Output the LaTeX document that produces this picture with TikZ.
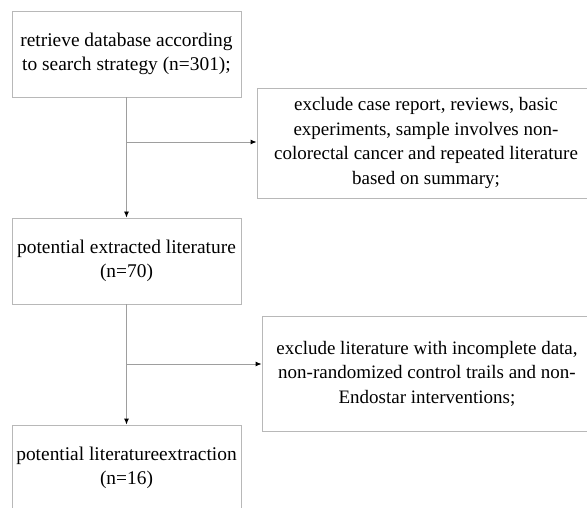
\documentclass[tikz,border=0pt]{standalone}
\usepackage{fontspec}
\setmainfont{Liberation Serif}
\usetikzlibrary{arrows.meta}
\begin{document}
\begin{tikzpicture}[x=1pt,y=-1pt,
  box/.style={draw=black!28, line width=0.9pt, inner sep=0pt, align=center,
    font=\fontsize{19.4}{24.5}\selectfont},
  rbox/.style={box, font=\fontsize{19}{24.5}\selectfont},
  arr/.style={draw=black!38, line width=0.9pt, -{Latex[length=6pt,width=5pt,color=black]}}]
\useasboundingbox (0,0) rectangle (587,508);
\node[box, minimum width=229pt, minimum height=86pt] (b1) at (126.5,54) {retrieve database according\\to search strategy (n=301);};
\node[rbox, minimum width=338pt, minimum height=110pt] (b2) at (426,143) {exclude case report, reviews, basic\\experiments, sample involves non-\\colorectal cancer and repeated literature\\based on summary;};
\node[box, minimum width=229pt, minimum height=86pt] (b3) at (126.5,261) {potential extracted literature\\(n=70)};
\node[rbox, minimum width=330pt, minimum height=115pt] (b4) at (427,373.5) {exclude literature with incomplete data,\\non-randomized control trails and non-\\Endostar interventions;};
\node[box, minimum width=229pt, minimum height=86pt] (b5) at (126.5,468) {potential literatureextraction\\(n=16)};
\coordinate (j1) at (126.5,142);
\coordinate (j2) at (126.5,364);
\draw[arr] (b1.south) -- (b3.north);
\draw[arr] (j1) -- (j1 -| b2.west);
\draw[arr] (b3.south) -- (b5.north);
\draw[arr] (j2) -- (j2 -| b4.west);
\end{tikzpicture}
\end{document}
